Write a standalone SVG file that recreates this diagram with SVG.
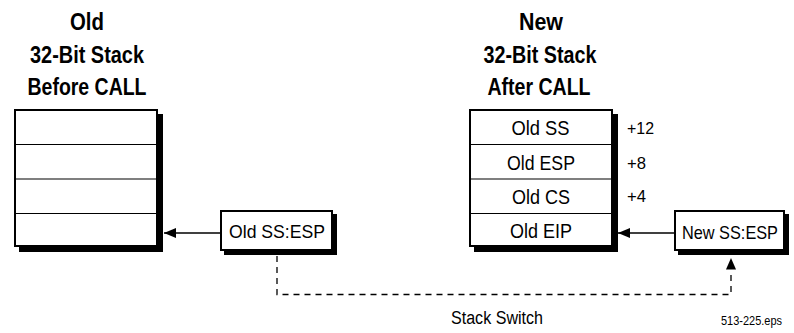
<svg xmlns="http://www.w3.org/2000/svg" width="794" height="333" viewBox="0 0 794 333">
  <style>
    .title { font-family: "Liberation Sans", Arial, sans-serif; font-weight: bold; font-size: 24px; fill: #000; text-anchor: middle; }
    .cell { font-family: "Liberation Sans", Arial, sans-serif; font-size: 21px; fill: #000; text-anchor: middle; }
    .ptr { font-family: "Liberation Sans", Arial, sans-serif; font-size: 18.5px; fill: #000; text-anchor: middle; }
    .off { font-family: "Liberation Sans", Arial, sans-serif; font-size: 16.5px; fill: #000; }
    .small { font-family: "Liberation Sans", Arial, sans-serif; font-size: 18px; fill: #000; }
    .tiny { font-family: "Liberation Sans", Arial, sans-serif; font-size: 13px; fill: #000; }
    .shadow { fill: #000; stroke: none; }
    .box { fill: #fff; stroke: #000; stroke-width: 2; }
    .row { stroke: #000; stroke-width: 1.2; fill: none; }
    .solid { stroke: #000; stroke-width: 1.4; fill: none; }
    .dash { stroke: #000; stroke-width: 1.3; fill: none; stroke-dasharray: 6 5; }
  </style>
  <defs>
    <marker id="ah" markerWidth="12" markerHeight="10" refX="12" refY="5" orient="auto" markerUnits="userSpaceOnUse">
      <path d="M0,0 L12,5 L0,10 Z" fill="#000"/>
    </marker>
  </defs>
  <rect width="794" height="333" fill="#fff"/>

  <g id="old-stack">
    <text class="title" x="87" y="29.5" textLength="34" lengthAdjust="spacingAndGlyphs">Old</text>
    <text class="title" x="87" y="62.5" textLength="114" lengthAdjust="spacingAndGlyphs">32-Bit Stack</text>
    <text class="title" x="87" y="94.5" textLength="119" lengthAdjust="spacingAndGlyphs">Before CALL</text>
    <rect class="shadow" x="19" y="114" width="144" height="138"/>
    <rect class="box" x="15" y="110" width="142" height="136"/>
    <line class="row" x1="15" y1="144.5" x2="157" y2="144.5"/>
    <line class="row" x1="15" y1="179" x2="157" y2="179"/>
    <line class="row" x1="15" y1="213.5" x2="157" y2="213.5"/>
  </g>

  <g id="new-stack">
    <text class="title" x="541" y="29.5" textLength="44" lengthAdjust="spacingAndGlyphs">New</text>
    <text class="title" x="540" y="62.5" textLength="113" lengthAdjust="spacingAndGlyphs">32-Bit Stack</text>
    <text class="title" x="539" y="94.5" textLength="103" lengthAdjust="spacingAndGlyphs">After CALL</text>
    <rect class="shadow" x="474" y="114" width="144" height="138"/>
    <rect class="box" x="470" y="110" width="142" height="136"/>
    <line class="row" x1="470" y1="144.5" x2="612" y2="144.5"/>
    <line class="row" x1="470" y1="179" x2="612" y2="179"/>
    <line class="row" x1="470" y1="213.5" x2="612" y2="213.5"/>
    <text class="cell" x="540.5" y="135" textLength="58" lengthAdjust="spacingAndGlyphs">Old SS</text>
    <text class="cell" x="541" y="169.5" textLength="68" lengthAdjust="spacingAndGlyphs">Old ESP</text>
    <text class="cell" x="541" y="203.5" textLength="58" lengthAdjust="spacingAndGlyphs">Old CS</text>
    <text class="cell" x="541" y="237.5" textLength="62" lengthAdjust="spacingAndGlyphs">Old EIP</text>
    <text class="off" x="627" y="133.5" textLength="27" lengthAdjust="spacingAndGlyphs">+12</text>
    <text class="off" x="627" y="169" textLength="19" lengthAdjust="spacingAndGlyphs">+8</text>
    <text class="off" x="627" y="202" textLength="19" lengthAdjust="spacingAndGlyphs">+4</text>
  </g>

  <g id="old-ss-esp">
    <rect class="shadow" x="224" y="214" width="113" height="41"/>
    <rect class="box" x="221" y="211" width="111" height="39"/>
    <text class="ptr" x="277" y="238" textLength="96" lengthAdjust="spacingAndGlyphs">Old SS:ESP</text>
  </g>

  <g id="new-ss-esp">
    <rect class="shadow" x="678" y="214" width="111" height="41"/>
    <rect class="box" x="675" y="211" width="109" height="39"/>
    <text class="ptr" x="730" y="238.5" textLength="96" lengthAdjust="spacingAndGlyphs">New SS:ESP</text>
  </g>

  <g id="connectors">
    <line class="solid" x1="220" y1="233" x2="164" y2="233" marker-end="url(#ah)"/>
    <line class="solid" x1="674" y1="233" x2="618" y2="233" marker-end="url(#ah)"/>
    <path class="dash" d="M277,256 L277,294.5 L731,294.5 L731,270"/>
    <path d="M726,269.5 L731,258 L736,269.5 Z" fill="#000"/>
    <text class="small" x="451" y="324" textLength="92" lengthAdjust="spacingAndGlyphs">Stack Switch</text>
  </g>

  <text class="tiny" x="721" y="325" textLength="61" lengthAdjust="spacingAndGlyphs">513-225.eps</text>
</svg>
